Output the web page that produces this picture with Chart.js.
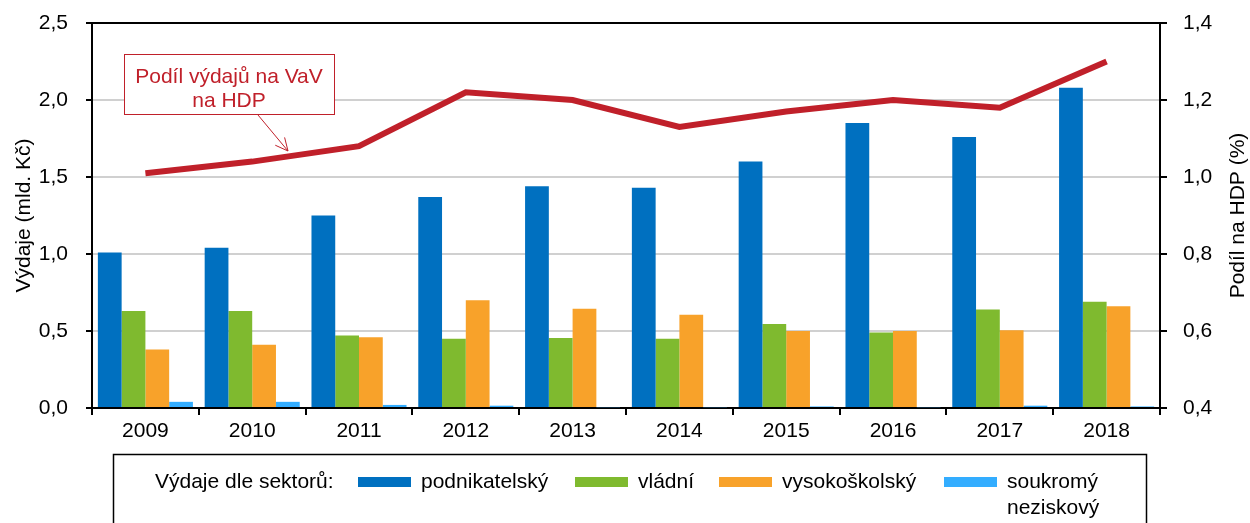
<!DOCTYPE html>
<html>
<head>
<meta charset="utf-8">
<script src="https://cdn.jsdelivr.net/npm/chart.js@4/dist/chart.umd.min.js"></script>
<style>
  body { margin: 0; background: #fff; }
</style>
</head>
<body>
<canvas id="chart" width="1250" height="523"></canvas>
<script>
const years = ['2009','2010','2011','2012','2013','2014','2015','2016','2017','2018'];
const podnikatelsky = [1.01, 1.04, 1.25, 1.37, 1.44, 1.43, 1.60, 1.85, 1.76, 2.08];
const vladni = [0.63, 0.63, 0.47, 0.45, 0.455, 0.45, 0.545, 0.49, 0.64, 0.69];
const vysokoskolsky = [0.38, 0.41, 0.46, 0.70, 0.645, 0.605, 0.50, 0.50, 0.505, 0.66];
const soukromy = [0.04, 0.04, 0.02, 0.015, 0.005, 0.005, 0.01, 0.005, 0.015, 0.01];
const podilHdp = [1.01, 1.04, 1.08, 1.22, 1.20, 1.13, 1.17, 1.20, 1.18, 1.30];

const sectorNames = ['podnikatelský', 'vládní', 'vysokoškolský', ['soukromý', 'neziskový']];
const sectorColors = ['#0070c0', '#7fba2f', '#f8a22a', '#33adff'];
const lineColor = '#c0202a';
const FONT = 'Liberation Sans, Arial, sans-serif';
const FS = 21;

const fmt = v => v.toFixed(1).replace('.', ',');

// frame, right axis title, annotation box and bottom legend
const extras = {
  id: 'extras',
  afterDraw(chart) {
    const { ctx, chartArea: a } = chart;
    ctx.save();
    // top border of the plot
    ctx.strokeStyle = '#000';
    ctx.lineWidth = 2;
    ctx.beginPath();
    ctx.moveTo(a.left, a.top);
    ctx.lineTo(a.right, a.top);
    ctx.stroke();

    ctx.font = FS + 'px ' + FONT;
    ctx.textAlign = 'center';
    ctx.textBaseline = 'middle';

    // right axis title, reads bottom to top
    ctx.save();
    ctx.translate(1238, (a.top + a.bottom) / 2);
    ctx.rotate(-Math.PI / 2);
    ctx.fillStyle = '#000';
    ctx.fillText('Podíl na HDP (%)', 0, 0);
    ctx.restore();

    // annotation
    ctx.strokeStyle = lineColor;
    ctx.lineWidth = 1;
    ctx.fillStyle = '#fff';
    ctx.fillRect(124, 54, 210, 60);
    ctx.strokeRect(124.5, 54.5, 210, 60);
    ctx.fillStyle = lineColor;
    ctx.fillText('Podíl výdajů na VaV', 229, 77);
    ctx.fillText('na HDP', 229, 101);
    // arrow
    const x0 = 258, y0 = 115, x1 = 288, y1 = 151;
    ctx.beginPath();
    ctx.moveTo(x0, y0);
    ctx.lineTo(x1, y1);
    const ang = Math.atan2(y1 - y0, x1 - x0);
    for (const d of [-0.45, 0.45]) {
      ctx.moveTo(x1, y1);
      ctx.lineTo(x1 - 14 * Math.cos(ang + d), y1 - 14 * Math.sin(ang + d));
    }
    ctx.stroke();

    // legend
    ctx.strokeStyle = '#000';
    ctx.lineWidth = 1.5;
    ctx.strokeRect(113.5, 454.5, 1033, 80);
    ctx.fillStyle = '#000';
    ctx.textAlign = 'left';
    ctx.fillText('Výdaje dle sektorů:', 155, 482);
    const swX = [358, 575, 719, 944];
    sectorNames.forEach((name, i) => {
      ctx.fillStyle = sectorColors[i];
      ctx.fillRect(swX[i], 477, 53, 10);
      ctx.fillStyle = '#000';
      const lines = Array.isArray(name) ? name : [name];
      lines.forEach((t, j) => ctx.fillText(t, swX[i] + 63, 482 + j * 26));
    });
    ctx.restore();
  }
};

const barSet = (label, data, color) => ({
  type: 'bar',
  label,
  data,
  backgroundColor: color,
  yAxisID: 'y',
  order: 1,
  categoryPercentage: 0.89,
  barPercentage: 1.0
});

const fitY = w => s => { s.width = w; s.paddingTop = 0; s.paddingBottom = 0; };

new Chart(document.getElementById('chart').getContext('2d'), {
  data: {
    labels: years,
    datasets: [
      {
        type: 'line',
        label: 'Podíl výdajů na VaV na HDP',
        data: podilHdp,
        borderColor: lineColor,
        borderWidth: 6,
        pointRadius: 0,
        tension: 0,
        yAxisID: 'y1',
        order: 0
      },
      barSet('podnikatelský', podnikatelsky, sectorColors[0]),
      barSet('vládní', vladni, sectorColors[1]),
      barSet('vysokoškolský', vysokoskolsky, sectorColors[2]),
      barSet('soukromý neziskový', soukromy, sectorColors[3])
    ]
  },
  options: {
    responsive: false,
    animation: false,
    layout: { padding: { top: 23, bottom: 0, left: 0, right: 0 } },
    plugins: {
      legend: { display: false },
      tooltip: { enabled: false }
    },
    scales: {
      x: {
        afterFit: s => { s.height = 115; s.paddingLeft = 0; s.paddingRight = 0; },
        grid: { offset: true, drawOnChartArea: false, color: '#000', tickLength: 7, lineWidth: 2 },
        border: { color: '#000', width: 2 },
        ticks: { color: '#000', font: { family: FONT, size: FS }, padding: 4 }
      },
      y: {
        position: 'left',
        min: 0,
        max: 2.5,
        afterFit: fitY(92),
        grid: { color: '#d0d0d0', tickColor: '#000', tickLength: 6, lineWidth: 2 },
        border: { color: '#000', width: 2 },
        ticks: { stepSize: 0.5, color: '#000', font: { family: FONT, size: FS }, padding: 18, callback: fmt },
        title: { display: true, text: 'Výdaje (mld. Kč)', color: '#000', font: { family: FONT, size: FS }, padding: { top: 12, bottom: 0 } }
      },
      y1: {
        position: 'right',
        min: 0.4,
        max: 1.4,
        afterFit: fitY(90),
        grid: { drawOnChartArea: false, color: '#000', tickLength: 7, lineWidth: 2 },
        border: { color: '#000', width: 2 },
        ticks: { stepSize: 0.2, color: '#000', font: { family: FONT, size: FS }, padding: 16, callback: fmt }
      }
    }
  },
  plugins: [extras]
});
</script>
</body>
</html>
